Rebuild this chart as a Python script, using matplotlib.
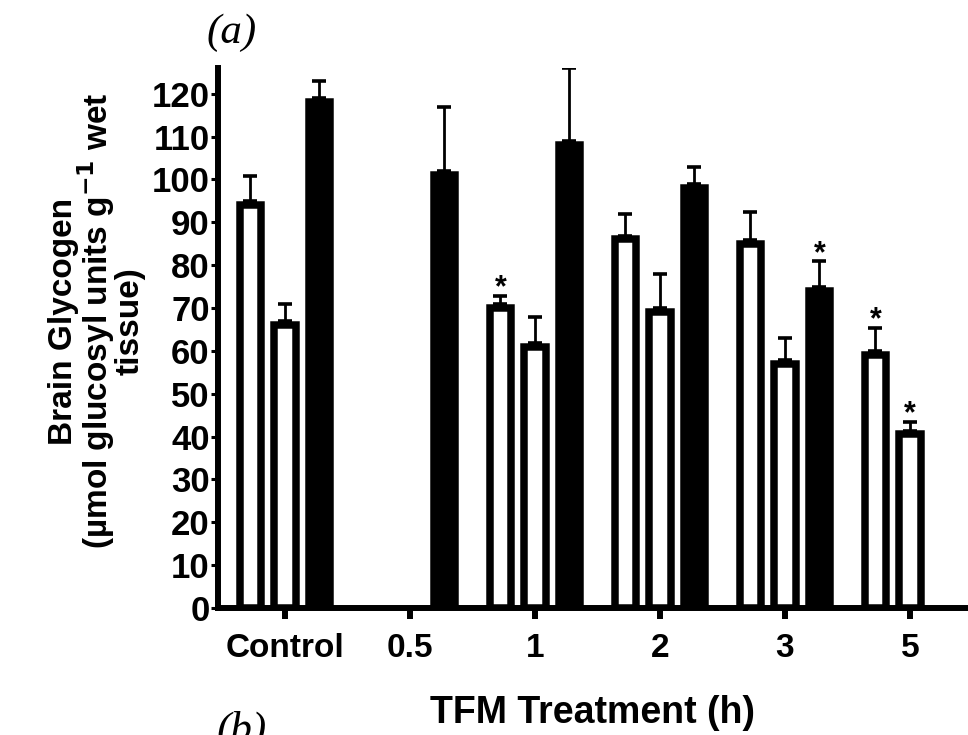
import numpy as np
import matplotlib
matplotlib.use("Agg")
import matplotlib.pyplot as plt

plt.rcParams['font.family'] = ['Liberation Sans', 'DejaVu Sans']
plt.rcParams['font.weight'] = 'bold'

# data
categories = ['Control', '0.5', '1', '2', '3', '5']
open1 = [94, np.nan, 70, 86, 85, 59]
open1_err = [6, np.nan, 2, 5, 6.5, 5.5]
open2 = [66, np.nan, 61, 69, 57, 40.5]
open2_err = [4, np.nan, 6, 8, 5, 2]
solid = [118, 101, 108, 98, 74, np.nan]
solid_err = [4, 15, 17, 4, 6, np.nan]
# significance stars: (series index, category index)
stars = [(0, 2), (2, 4), (0, 5), (1, 5)]

fig = plt.figure(figsize=(9.68, 7.35), dpi=100)
ax = fig.add_axes([0.2252, 0.1728, 0.7748, 0.7347])

x = np.arange(len(categories))
offsets = [-0.276, 0.0, 0.276]
width = 0.172
series = [(open1, open1_err, 'white'), (open2, open2_err, 'white'), (solid, solid_err, 'black')]

for i, (vals, errs, col) in enumerate(series):
    vals = np.array(vals, dtype=float)
    errs = np.array(errs, dtype=float)
    ok = ~np.isnan(vals)
    xs = x[ok] + offsets[i]
    ax.bar(xs, vals[ok], width=width, color=col, edgecolor='black', linewidth=5.4, zorder=3)
    ax.errorbar(xs, vals[ok] + 0.9, yerr=[np.zeros(ok.sum()), errs[ok]], fmt='none',
                ecolor='black', elinewidth=2.0, capsize=4.7, capthick=2.6, zorder=2)

for si, ci in stars:
    vals, errs, _ = series[si]
    ax.text(x[ci] + offsets[si], vals[ci] + errs[ci] + 2.6, '*', ha='center', va='center',
            fontsize=22, fontweight='bold')

ax.set_xlim(-0.536, 5.464)
ax.set_ylim(0, 126)
ax.set_yticks(np.arange(0, 121, 10))
ax.set_xticks(x)
ax.set_xticklabels(categories)
ax.tick_params(axis='y', labelsize=25, length=5, width=2.2, pad=1)
ax.tick_params(axis='x', labelsize=24, length=8, width=4.3, pad=10)
for lab in ax.get_xticklabels() + ax.get_yticklabels():
    lab.set_fontweight('bold')

for s in ['top', 'right']:
    ax.spines[s].set_visible(False)
ax.spines['left'].set_linewidth(4.3)
ax.spines['bottom'].set_linewidth(4.3)

ax.set_xlabel('TFM Treatment (h)', fontsize=27, fontweight='bold', labelpad=22)
fig.text(0.100, 0.563, 'Brain Glycogen\n(\u00b5mol glucosyl units g$^{\\mathbf{-1}}$ wet\ntissue)',
         rotation=90, ha='center', va='center', fontsize=24, fontweight='bold', linespacing=0.88)

fig.text(0.239, 0.956, '(a)', fontsize=31, style='italic', family='Liberation Serif',
         fontweight='normal', ha='center', va='center')
fig.text(0.250, 0.006, '(b)', fontsize=31, style='italic', family='Liberation Serif',
         fontweight='normal', ha='center', va='center')

fig.savefig('out.png', dpi=100)
